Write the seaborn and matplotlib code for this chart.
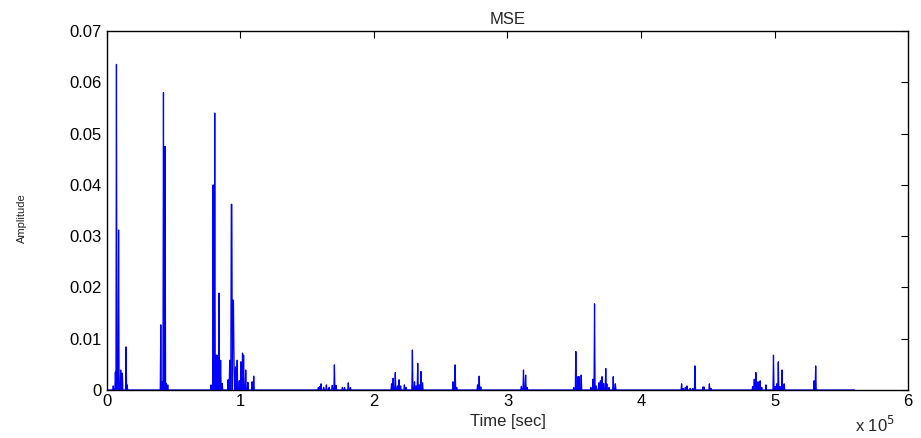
import numpy as np
import pandas as pd
import matplotlib
matplotlib.use('Agg')
import matplotlib.pyplot as plt
import seaborn as sns
from matplotlib.ticker import FuncFormatter

# spike positions (sec) and MSE heights
spike_times = [5000, 6500, 7300, 7900, 8800, 10300, 11700, 14200, 15200,
               40400, 41200, 42200, 43700, 44500, 45500,
               77900, 79600, 80900, 82100, 83400, 83900, 85100, 86400, 90900, 92100,
               93300, 93600, 94600, 94900, 95400, 96400, 97600, 99100, 100400, 101400,
               102600, 103900, 105400, 108800, 110100,
               158300, 159500, 160500, 162500, 164500, 166500, 168800, 170300, 171500,
               176500, 178000, 181000, 182300,
               213200, 214500, 216200, 217400, 218900, 220000, 222700, 224000, 228700,
               230200, 231500, 232700, 234000, 235400, 236300,
               259400, 260700, 262000, 277400, 278900, 280100,
               310600, 311800, 313600, 314800,
               349800, 351300, 352800, 353800, 355000, 362200, 363800, 365300, 366500,
               368300, 369800, 370800, 372200, 373500, 374600, 376100, 379200, 380700,
               430500, 431700, 433300, 434600, 437000, 438800, 440400, 446600, 447200,
               451100, 452300,
               483600, 484800, 486100, 487600, 489100, 490500, 493400, 499100, 500300,
               501600, 502800, 504000, 505800, 507100,
               529800, 530800]
spike_vals = [0.0008, 0.0035, 0.0635, 0.0053, 0.0312, 0.0039, 0.0033, 0.0084, 0.001,
              0.0127, 0.0016, 0.058, 0.0475, 0.0013, 0.001,
              0.001, 0.040, 0.054, 0.0068, 0.0068, 0.0189, 0.0058, 0.0013, 0.002, 0.0058,
              0.0362, 0.0362, 0.0175, 0.0175, 0.0065, 0.0045, 0.0058, 0.0018, 0.0055, 0.0072,
              0.0068, 0.0039, 0.0015, 0.0016, 0.0027,
              0.0005, 0.0007, 0.0012, 0.0005, 0.001, 0.0005, 0.0009, 0.0049, 0.0009,
              0.0005, 0.0005, 0.0014, 0.0005,
              0.0012, 0.0023, 0.0034, 0.0008, 0.002, 0.0008, 0.001, 0.0005, 0.0078,
              0.0016, 0.0008, 0.0052, 0.001, 0.0036, 0.0014,
              0.0016, 0.0049, 0.0005, 0.001, 0.0027, 0.0006,
              0.0007, 0.0039, 0.0029, 0.0005,
              0.0005, 0.0075, 0.0026, 0.0026, 0.0029, 0.0005, 0.0021, 0.0168, 0.0008,
              0.0014, 0.0018, 0.0026, 0.0013, 0.0042, 0.0012, 0.0005, 0.0026, 0.0012,
              0.0012, 0.0003, 0.0005, 0.0008, 0.0003, 0.0003, 0.0047, 0.0006, 0.0006,
              0.0012, 0.0003,
              0.0007, 0.0021, 0.0034, 0.0016, 0.0018, 0.0005, 0.001, 0.0068, 0.0007,
              0.0012, 0.0055, 0.0007, 0.0039, 0.0012,
              0.0018, 0.0047]
t_end = 560000
step = 400

# dense signal: zero everywhere except the spikes
time = np.arange(0, t_end + step, step)
mse = np.zeros(len(time))
for t, v in zip(spike_times, spike_vals):
    i = int(round(t / step))
    mse[i] = max(mse[i], v)
df = pd.DataFrame({'Time': time, 'MSE': mse})

sns.set_style("white")
plt.rcParams['font.family'] = ['Liberation Sans', 'DejaVu Sans']

fig = plt.figure(figsize=(9.21, 4.38), dpi=100)
ax = fig.add_axes([0.116, 0.1096, 0.870, 0.8196])
sns.lineplot(data=df, x='Time', y='MSE', color='#0000ff', linewidth=0.9,
             estimator=None, ax=ax)

ax.set_xlim(0, 6e5)
ax.set_ylim(0, 0.07)
ax.set_xticks(np.arange(0, 6.01e5, 1e5))
ax.set_yticks(np.arange(0, 0.0701, 0.01))
ax.xaxis.set_major_formatter(FuncFormatter(lambda v, p: f'{v / 1e5:g}'))
ax.yaxis.set_major_formatter(FuncFormatter(lambda v, p: f'{round(v, 2):g}'))
ax.tick_params(direction='in', length=5, width=0.8, top=True, right=True,
               labelsize=12, colors='black', pad=4)
ax.tick_params(axis='x', pad=3)
for s in ax.spines.values():
    s.set_visible(True)
    s.set_color('black')
    s.set_linewidth(1.0)

ax.set_title('MSE', fontsize=12, pad=5)
ax.set_xlabel('Time [sec]', fontsize=12)
ax.xaxis.set_label_coords(0.5, -0.068)
ax.set_ylabel('Amplitude', fontsize=8)
ax.yaxis.set_label_coords(-0.1, 0.48)
fig.text(0.928, 0.006, r'x 10$^5$', fontsize=12, ha='left', va='bottom')

fig.savefig('out.png', dpi=100)
